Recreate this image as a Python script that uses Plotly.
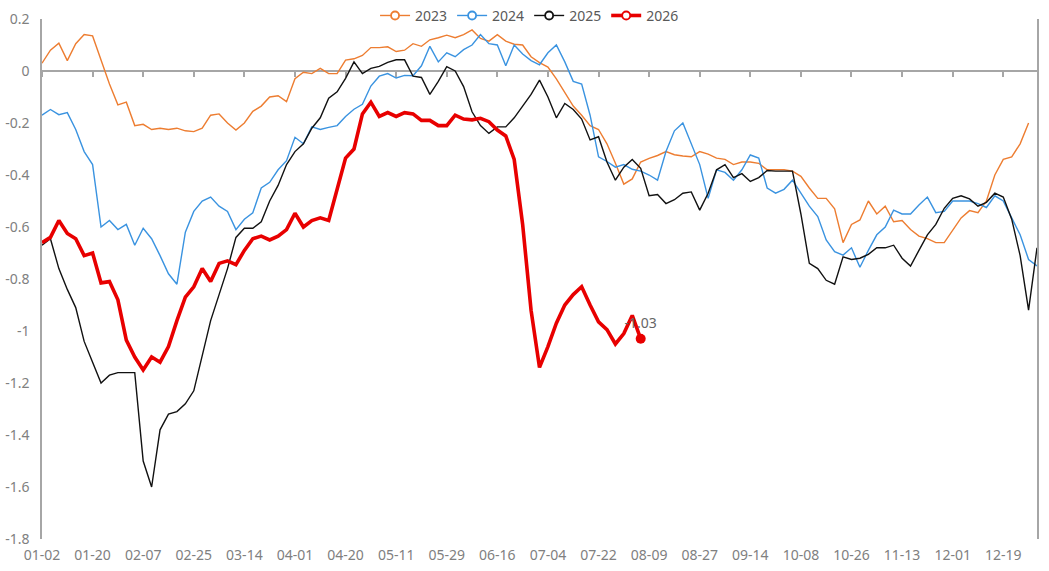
import pandas as pd
import plotly.graph_objects as go

# dates with no trading in any year (gaps on the category axis)
NO_TRADING = ["01-01", "04-05", "05-01", "05-02", "05-03",
              "10-01", "10-02", "10-03", "10-04", "10-05", "10-06"]
all_days = pd.date_range("2024-01-01", "2024-12-31").strftime("%m-%d").tolist()
categories = [d for d in all_days if d not in NO_TRADING]

TICK_LABELS = ["01-02", "01-20", "02-07", "02-25", "03-14", "04-01", "04-20",
               "05-11", "05-29", "06-16", "07-04", "07-22", "08-09", "08-27",
               "09-14", "10-08", "10-26", "11-13", "12-01", "12-19"]
Y_TICKS = [0.2, 0, -0.2, -0.4, -0.6, -0.8, -1, -1.2, -1.4, -1.6, -1.8]
Y_TICK_TEXT = ["0.2", "0", "-0.2", "-0.4", "-0.6", "-0.8", "-1", "-1.2", "-1.4", "-1.6", "-1.8"]

# values read every third date
dates = categories[::3]

Y2023 = [0.03, 0.08, 0.107, 0.04, 0.105, 0.14, 0.135, 0.04, -0.05, -0.13,
         -0.12, -0.21, -0.205, -0.225, -0.22, -0.225, -0.22, -0.23, -0.233, -0.22,
         -0.17, -0.165, -0.20, -0.227, -0.20, -0.155, -0.135, -0.10, -0.095, -0.118,
         -0.03, -0.005, -0.01, 0.01, -0.01, -0.01, 0.042, 0.047, 0.06, 0.09,
         0.09, 0.093, 0.075, 0.08, 0.105, 0.095, 0.12, 0.128, 0.138, 0.128,
         0.14, 0.158, 0.125, 0.115, 0.14, 0.115, 0.103, 0.10, 0.055, 0.032,
         0.015, -0.03, -0.085, -0.135, -0.17, -0.21, -0.225, -0.28, -0.355, -0.435,
         -0.415, -0.35, -0.336, -0.325, -0.31, -0.322, -0.327, -0.33, -0.31, -0.32,
         -0.335, -0.34, -0.36, -0.35, -0.35, -0.355, -0.38, -0.38, -0.38, -0.385,
         -0.405, -0.45, -0.49, -0.49, -0.53, -0.66, -0.59, -0.573, -0.50, -0.55,
         -0.52, -0.58, -0.575, -0.61, -0.635, -0.645, -0.66, -0.66, -0.61, -0.565,
         -0.537, -0.545, -0.50, -0.40, -0.34, -0.33, -0.28, -0.20, None]

Y2024 = [-0.17, -0.148, -0.168, -0.16, -0.225, -0.31, -0.36, -0.60, -0.575, -0.61,
         -0.59, -0.67, -0.605, -0.645, -0.71, -0.78, -0.82, -0.62, -0.54, -0.50,
         -0.485, -0.52, -0.54, -0.61, -0.57, -0.545, -0.45, -0.428, -0.38, -0.345,
         -0.255, -0.28, -0.215, -0.225, -0.217, -0.21, -0.175, -0.147, -0.128, -0.058,
         -0.02, -0.01, -0.027, -0.017, -0.018, 0.02, 0.095, 0.035, 0.07, 0.055,
         0.082, 0.10, 0.14, 0.105, 0.10, 0.02, 0.10, 0.065, 0.04, 0.024,
         0.07, 0.10, 0.035, -0.04, -0.05, -0.17, -0.33, -0.348, -0.37, -0.36,
         -0.378, -0.385, -0.40, -0.42, -0.31, -0.23, -0.20, -0.28, -0.36, -0.49,
         -0.38, -0.39, -0.42, -0.38, -0.323, -0.335, -0.45, -0.47, -0.455, -0.42,
         -0.47, -0.52, -0.56, -0.65, -0.695, -0.708, -0.68, -0.755, -0.69, -0.63,
         -0.60, -0.535, -0.55, -0.55, -0.515, -0.485, -0.545, -0.54, -0.50, -0.50,
         -0.50, -0.51, -0.525, -0.48, -0.50, -0.565, -0.63, -0.725, -0.75]

Y2025 = [-0.67, -0.645, -0.76, -0.84, -0.91, -1.04, -1.12, -1.20, -1.17, -1.16,
         -1.16, -1.16, -1.50, -1.60, -1.38, -1.32, -1.31, -1.28, -1.23, -1.10,
         -0.96, -0.86, -0.76, -0.64, -0.605, -0.605, -0.58, -0.50, -0.44, -0.36,
         -0.31, -0.28, -0.22, -0.18, -0.105, -0.08, -0.028, 0.035, -0.01, 0.01,
         0.018, 0.033, 0.043, 0.043, -0.02, -0.025, -0.09, -0.04, 0.017, 0.0,
         -0.06, -0.157, -0.21, -0.24, -0.215, -0.215, -0.18, -0.135, -0.09, -0.035,
         -0.10, -0.18, -0.125, -0.148, -0.185, -0.265, -0.253, -0.35, -0.42, -0.37,
         -0.34, -0.374, -0.48, -0.475, -0.51, -0.495, -0.47, -0.465, -0.535, -0.47,
         -0.38, -0.36, -0.41, -0.395, -0.425, -0.41, -0.383, -0.385, -0.385, -0.385,
         -0.55, -0.74, -0.76, -0.805, -0.82, -0.715, -0.725, -0.72, -0.705, -0.68,
         -0.68, -0.67, -0.72, -0.75, -0.69, -0.63, -0.59, -0.528, -0.49, -0.48,
         -0.492, -0.52, -0.505, -0.47, -0.485, -0.57, -0.71, -0.92, -0.68]

Y2026 = [-0.66, -0.64, -0.575, -0.625, -0.645, -0.71, -0.70, -0.815, -0.81, -0.88,
         -1.035, -1.10, -1.15, -1.10, -1.12, -1.06, -0.96, -0.87, -0.83, -0.76,
         -0.81, -0.74, -0.73, -0.745, -0.69, -0.645, -0.635, -0.65, -0.635, -0.61,
         -0.547, -0.60, -0.575, -0.565, -0.575, -0.46, -0.335, -0.30, -0.165, -0.12,
         -0.175, -0.16, -0.175, -0.16, -0.165, -0.19, -0.19, -0.21, -0.21, -0.17,
         -0.185, -0.188, -0.182, -0.195, -0.227, -0.25, -0.34, -0.59, -0.92, -1.14,
         -1.06, -0.97, -0.90, -0.86, -0.83, -0.90, -0.965, -0.995, -1.05, -1.01,
         -0.94, -1.03]

SERIES = [("2023", Y2023, "#ED7D31", 1.4),
          ("2024", Y2024, "#3A93E0", 1.4),
          ("2025", Y2025, "#111111", 1.4),
          ("2026", Y2026, "#E80000", 3.6)]

FONT = "Noto Sans"
AXIS_GREY = "#A6A6A6"

fig = go.Figure()

for name, vals, color, width in SERIES:
    n = len(vals)
    if name == "2026":
        # only the latest point gets a dot and a value label
        sizes = [0] * (n - 1) + [10]
        labels = [""] * (n - 1) + [f"{vals[-1]:.2f}"]
        fig.add_trace(go.Scatter(
            x=dates[:n], y=vals, mode="lines+markers+text", name=name,
            line=dict(color=color, width=width),
            marker=dict(color=color, size=sizes, opacity=1, line=dict(width=0)),
            text=labels, textposition="top center",
            textfont=dict(family=FONT, size=14, color="#666666"),
            showlegend=False, hoverinfo="skip"))
    else:
        fig.add_trace(go.Scatter(
            x=dates[:n], y=vals, mode="lines", name=name,
            line=dict(color=color, width=width),
            connectgaps=False, showlegend=False, hoverinfo="skip"))

# legend entries (line with hollow circle) on the overlaying zero-line axis
for name, vals, color, width in SERIES:
    fig.add_trace(go.Scatter(
        x=[None], y=[None], mode="lines+markers", name=name, xaxis="x2",
        line=dict(color=color, width=width),
        marker=dict(symbol="circle", size=8, color="white",
                    line=dict(color=color, width=1.8))))

fig.update_layout(
    width=1049, height=571,
    margin=dict(l=42, r=12, t=19, b=32, autoexpand=False),
    paper_bgcolor="white", plot_bgcolor="white",
    font=dict(family=FONT, size=14, color="#808080"),
    showlegend=True,
    legend=dict(orientation="h", x=0.49, xanchor="center", y=1.006, yanchor="middle",
                font=dict(family=FONT, size=14, color="#595959"),
                bgcolor="rgba(0,0,0,0)", itemwidth=30, tracegroupgap=0),
    xaxis=dict(type="category", categoryorder="array", categoryarray=categories,
               range=[0, len(categories) - 1],
               tickmode="array", tickvals=TICK_LABELS, ticktext=TICK_LABELS,
               showline=False, showgrid=False, zeroline=False, ticks="",
               ticklabelstandoff=6, automargin=False),
    xaxis2=dict(type="category", categoryorder="array", categoryarray=categories,
                matches="x", overlaying="x", anchor="free", position=0.9,
                tickmode="array", tickvals=TICK_LABELS,
                showline=True, linecolor=AXIS_GREY, linewidth=1.5,
                ticks="outside", ticklen=5, tickwidth=1.5, tickcolor=AXIS_GREY,
                showticklabels=False, showgrid=False, zeroline=False,
                layer="below traces"),
    yaxis=dict(range=[-1.8, 0.2], tickmode="array", tickvals=Y_TICKS, ticktext=Y_TICK_TEXT,
               showline=True, linecolor=AXIS_GREY, linewidth=1.5, mirror=True,
               showgrid=False, zeroline=False, ticks="", ticklabelstandoff=8,
               automargin=False),
)

fig.write_html("out.html", config={"displayModeBar": False},
               post_script="document.body.style.margin='0';")
